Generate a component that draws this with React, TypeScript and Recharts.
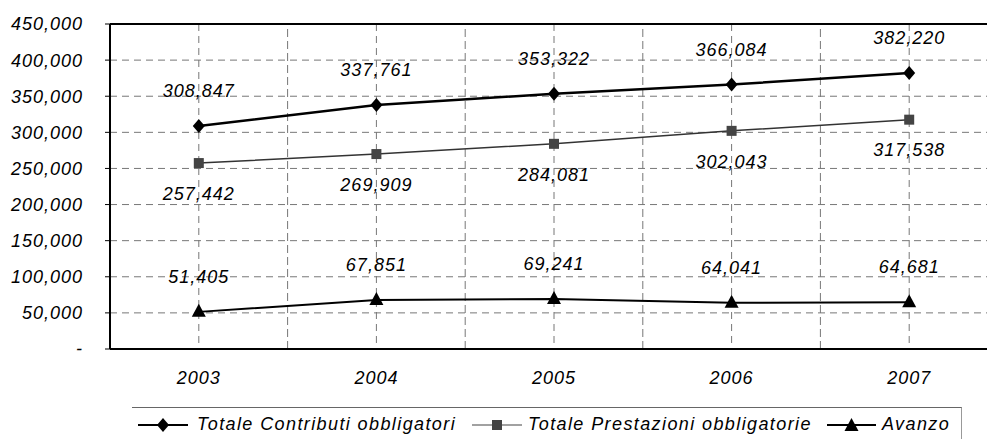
import { LineChart, Line, XAxis, YAxis, CartesianGrid, ReferenceLine, LabelList, Legend } from "recharts";

const YEARS = ["2003", "2004", "2005", "2006", "2007"];
const CONTRIBUTI = [308847, 337761, 353322, 366084, 382220];
const PRESTAZIONI = [257442, 269909, 284081, 302043, 317538];
const AVANZO = [51405, 67851, 69241, 64041, 64681];
const Y_TICKS = [0, 50000, 100000, 150000, 200000, 250000, 300000, 350000, 400000, 450000];
const BOUNDARIES = [0.5, 1.5, 2.5, 3.5];
const NAMES = ["Totale Contributi obbligatori", "Totale Prestazioni obbligatorie", "Avanzo"];

const data = YEARS.map((year, idx) => ({
  idx,
  year,
  contrib: CONTRIBUTI[idx],
  prest: PRESTAZIONI[idx],
  avanzo: AVANZO[idx],
}));

const FONT = '"Liberation Sans", Arial, sans-serif';
const fmt = (v: unknown) => Number(v).toLocaleString("en-US");
const textStyle = { fontFamily: FONT, fontStyle: "italic", fontSize: 18, letterSpacing: 1, fill: "#000" };

const Diamond = ({ cx, cy }: any) =>
  cx == null ? null : <polygon points={`${cx},${cy - 7} ${cx + 6},${cy} ${cx},${cy + 7} ${cx - 6},${cy}`} fill="#000" />;
const Square = ({ cx, cy }: any) =>
  cx == null ? null : <rect x={cx - 5} y={cy - 5} width={10} height={10} fill="#444" />;
const Triangle = ({ cx, cy }: any) =>
  cx == null ? null : <polygon points={`${cx},${cy - 8} ${cx + 7},${cy + 5} ${cx - 7},${cy + 5}`} fill="#000" />;

// legend icon: short line with the marker in the middle
function Icon({ w, kind }: { w: number; kind: number }) {
  const m = w / 2;
  return (
    <svg width={w} height={16} style={{ position: "absolute", top: 9 }}>
      <line x1={0} y1={8} x2={w} y2={8} stroke={kind === 1 ? "#444" : "#000"} strokeWidth={kind === 1 ? 1.2 : 2} />
      {kind === 0 && <Diamond cx={m} cy={8} />}
      {kind === 1 && <Square cx={m} cy={8} />}
      {kind === 2 && <Triangle cx={m} cy={9} />}
    </svg>
  );
}

const LEG_ICON_X = [6, 340, 695];
const LEG_ICON_W = [50, 50, 49];
const LEG_TEXT_X = [65, 396, 750];

function LegendBox() {
  return (
    <div
      style={{
        position: "relative",
        height: 36,
        boxSizing: "border-box",
        borderTop: "1px solid #666",
        borderRight: "1px solid #999",
        fontFamily: FONT,
        fontStyle: "italic",
        fontSize: 18,
        letterSpacing: 1.4,
        color: "#000",
      }}
    >
      {NAMES.map((n, i) => (
        <div key={n}>
          <div style={{ position: "absolute", left: LEG_ICON_X[i] }}>
            <Icon w={LEG_ICON_W[i]} kind={i} />
          </div>
          <span style={{ position: "absolute", left: LEG_TEXT_X[i], top: 6, whiteSpace: "nowrap", lineHeight: "20px" }}>{n}</span>
        </div>
      ))}
    </div>
  );
}

export default function App() {
  return (
    <div style={{ position: "fixed", left: 0, top: 0, width: 987, height: 439, overflow: "hidden", background: "#fff" }}>
      <LineChart width={1010} height={415} data={data} margin={{ top: 24, right: 12, left: 0, bottom: 0 }}>
        <CartesianGrid stroke="#777" strokeDasharray="7 5" />
        {BOUNDARIES.map((b) => (
          <ReferenceLine key={b} x={b} stroke="#777" strokeDasharray="8 4" />
        ))}
        <ReferenceLine y={450000} stroke="#000" strokeWidth={2} />
        <XAxis
          dataKey="idx"
          type="number"
          domain={[-0.5, 4.5]}
          ticks={[0, 1, 2, 3, 4]}
          tickFormatter={(i: number) => YEARS[i]}
          height={30}
          tickSize={0}
          tickMargin={22}
          axisLine={{ stroke: "#000", strokeWidth: 2 }}
          tick={textStyle}
        />
        <YAxis
          domain={[0, 450000]}
          ticks={Y_TICKS}
          width={110}
          tickSize={5}
          tickMargin={22}
          tickFormatter={(v: number) => (v === 0 ? "-" : fmt(v))}
          axisLine={{ stroke: "#000", strokeWidth: 2 }}
          tickLine={{ stroke: "#000" }}
          tick={textStyle}
        />
        <Legend
          verticalAlign="bottom"
          content={() => <LegendBox />}
          wrapperStyle={{ top: 407, bottom: "auto", left: 132, width: 830 }}
        />
        <Line dataKey="contrib" name={NAMES[0]} stroke="#000" strokeWidth={2.5} dot={<Diamond />} isAnimationActive={false}>
          <LabelList dataKey="contrib" position="top" offset={29} formatter={fmt} style={textStyle} />
        </Line>
        <Line dataKey="prest" name={NAMES[1]} stroke="#333" strokeWidth={1.5} dot={<Square />} isAnimationActive={false}>
          <LabelList dataKey="prest" position="bottom" offset={24} formatter={fmt} style={textStyle} />
        </Line>
        <Line dataKey="avanzo" name={NAMES[2]} stroke="#000" strokeWidth={2} dot={<Triangle />} isAnimationActive={false}>
          <LabelList dataKey="avanzo" position="top" offset={29} formatter={fmt} style={textStyle} />
        </Line>
      </LineChart>
    </div>
  );
}
